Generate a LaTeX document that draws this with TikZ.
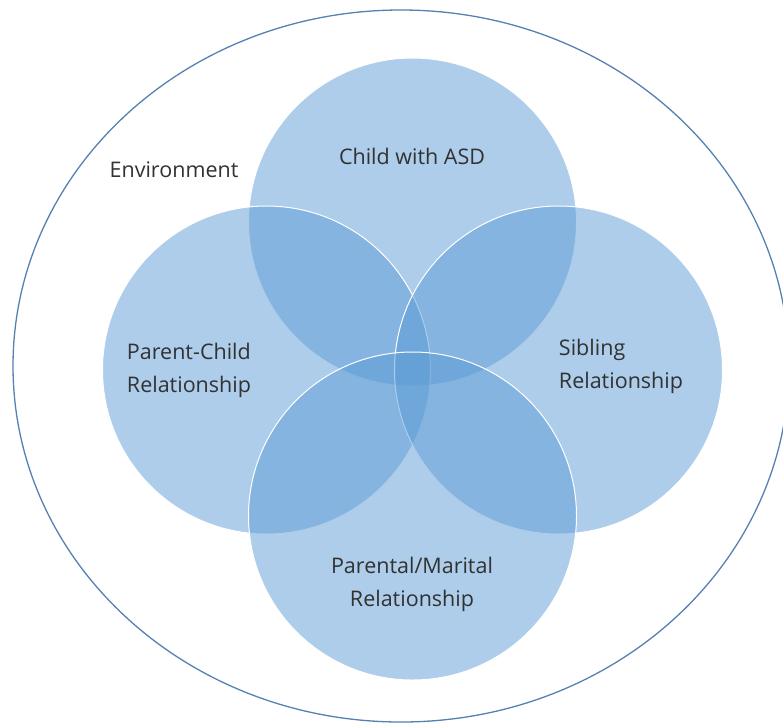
\documentclass[tikz,border=0pt]{standalone}
\usepackage{fontspec}
\setmainfont{Open Sans}
\usetikzlibrary{shapes.geometric}
\begin{document}
\begin{tikzpicture}[x=1pt,y=-1pt,
  ring/.style={circle, minimum size=328pt, inner sep=0pt, fill={rgb,255:red,91;green,155;blue,213}, fill opacity=0.5, draw=white, line width=1pt},
  label/.style={text={rgb,255:red,50;green,50;blue,50}, font=\fontsize{21.5}{33}\selectfont, inner sep=0pt},
]
\useasboundingbox (0,0) rectangle (783,724);
\begin{scope}
\clip (0,0) rectangle (783,724);
\node (env) [ellipse, draw={rgb,255:red,84;green,128;blue,178}, line width=1.3pt, minimum width=776pt, minimum height=712pt, inner sep=0pt] at (401,366) {};
\end{scope}
\node (top) [ring] at (412.5,222) {};
\node (left) [ring] at (266.5,370) {};
\node (right) [ring] at (558.5,370) {};
\node (bottom) [ring] at (412.5,516) {};
\node (envlabel) [label] at (174,170) {Environment};
\node (childlabel) [label] at (412,156) {Child with ASD};
\node (pclabel) [label, align=left] at (189,370) {Parent-Child\\Relationship};
\node (siblabel) [label, align=left] at (621,366) {Sibling\\Relationship};
\node (pmlabel) [label, align=center] at (412,584) {Parental/Marital\\Relationship};
\end{tikzpicture}
\end{document}
